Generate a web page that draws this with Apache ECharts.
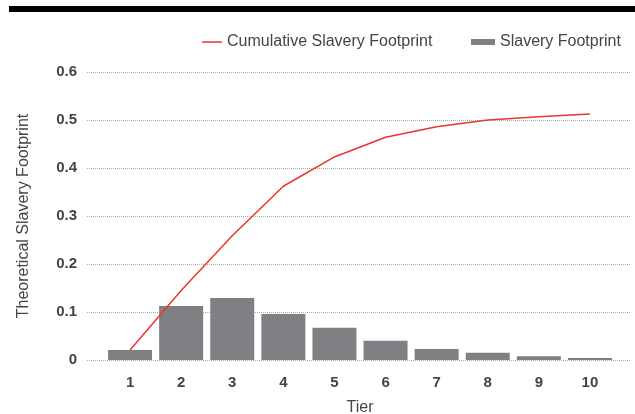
<!DOCTYPE html>
<html>
<head>
<meta charset="utf-8">
<script src="https://cdn.jsdelivr.net/npm/echarts@6/dist/echarts.min.js"></script>
<style>html,body{margin:0;padding:0;background:#fff;}#c{width:635px;height:414px;}</style>
</head>
<body>
<div id="c"></div>
<script>
var tiers = ['1','2','3','4','5','6','7','8','9','10'];
var slaveryFootprint = [0.021, 0.1125, 0.129, 0.096, 0.067, 0.040, 0.023, 0.015, 0.008, 0.004];
var cumulativeFootprint = [0.021, 0.145, 0.259, 0.362, 0.423, 0.464, 0.486, 0.500, 0.507, 0.5125];
var yTicks = [0, 0.1, 0.2, 0.3, 0.4, 0.5, 0.6];

var chart = echarts.init(document.getElementById('c'), null, {renderer: 'canvas'});
var font = 'Liberation Sans';
chart.setOption({
  animation: false,
  textStyle: {fontFamily: font},
  graphic: [{type: 'rect', shape: {x: 9, y: 6, width: 626, height: 6}, style: {fill: '#000'}}],
  legend: [{
    data: [{name: 'Cumulative Slavery Footprint', icon: 'rect'}], left: 197, top: 29, itemWidth: 20, itemHeight: 1.5,
    textStyle: {fontSize: 16, color: '#444', fontFamily: font}, itemGap: 10
  }, {
    data: [{name: 'Slavery Footprint', icon: 'rect'}], left: 466, top: 29, itemWidth: 24, itemHeight: 6,
    textStyle: {fontSize: 16, color: '#444', fontFamily: font}
  }],
  grid: [
    {left: 87, right: 5, top: 72, bottom: 54, outerBoundsMode: 'none', containLabel: false},
    {left: 104.5, right: 19.5, top: 72, bottom: 54, outerBoundsMode: 'none', containLabel: false}
  ],
  xAxis: [
    {gridIndex: 0, type: 'value', min: 0, max: 1, show: false},
    {gridIndex: 1, type: 'category', data: tiers,
     axisLine: {show: false}, axisTick: {show: false},
     axisLabel: {fontSize: 15, fontWeight: 'bold', color: '#444', margin: 15, fontFamily: font},
     name: 'Tier', nameLocation: 'middle', nameGap: 40,
     nameTextStyle: {fontSize: 16, color: '#444', fontFamily: font}}
  ],
  yAxis: [
    {gridIndex: 0, type: 'value', min: 0, max: 0.6, interval: 0.1,
     axisLine: {show: false}, axisTick: {show: false},
     axisLabel: {fontSize: 15, fontWeight: 'bold', color: '#444', margin: 10, fontFamily: font,
       formatter: function (v) { return v === 0 ? '0' : v.toFixed(1); }},
     splitLine: {lineStyle: {color: '#aaa', type: [1, 1], width: 1}},
     name: 'Theoretical Slavery Footprint', nameLocation: 'middle', nameGap: 55,
     nameTextStyle: {fontSize: 16, color: '#444', fontFamily: font}},
    {gridIndex: 1, type: 'value', min: 0, max: 0.6, interval: 0.1, show: false, splitLine: {show: false}}
  ],
  series: [
    {name: 'Cumulative Slavery Footprint', type: 'line', xAxisIndex: 1, yAxisIndex: 1,
     data: cumulativeFootprint, symbol: 'none', showSymbol: false,
     lineStyle: {color: '#e8352d', width: 1.5}, itemStyle: {color: '#e8352d'}, z: 5},
    {name: 'Slavery Footprint', type: 'bar', xAxisIndex: 1, yAxisIndex: 1,
     data: slaveryFootprint, barWidth: 44, itemStyle: {color: '#808084'}}
  ]
});
</script>
</body>
</html>
